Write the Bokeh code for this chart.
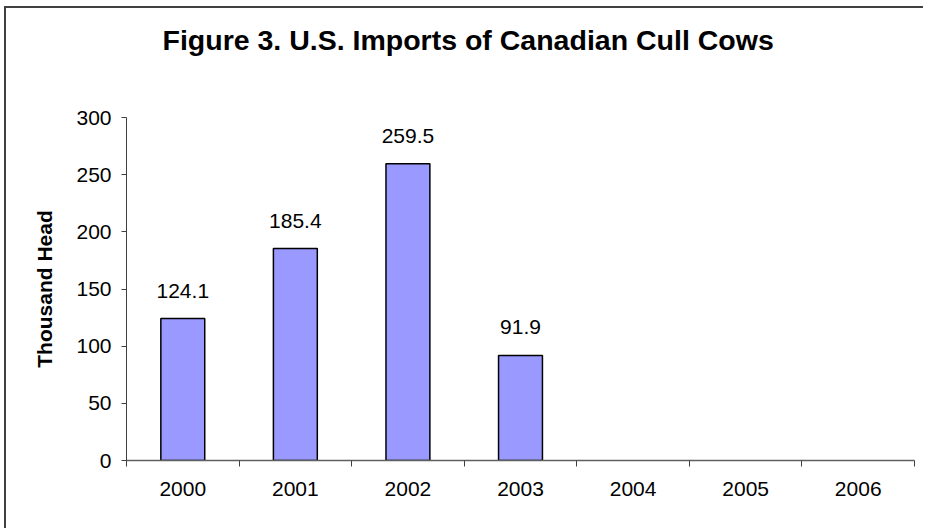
from bokeh.plotting import figure
from bokeh.models import ColumnDataSource, FixedTicker, Range1d, Title
from bokeh.embed import file_html
from bokeh.resources import INLINE
from bokeh.core.properties import value

years = ["2000", "2001", "2002", "2003", "2004", "2005", "2006"]
imports = [124.1, 185.4, 259.5, 91.9, None, None, None]
y_ticks = [0, 50, 100, 150, 200, 250, 300]
title_text = "Figure 3. U.S. Imports of Canadian Cull Cows"

FONT = "Liberation Sans"

xs = [i for i, v in enumerate(imports) if v is not None]
vals = [v for v in imports if v is not None]
src = ColumnDataSource(dict(x=xs, top=vals, label=[f"{v:.1f}" for v in vals]))

p = figure(width=919, height=522, output_backend="svg", toolbar_location=None,
           x_range=Range1d(-0.5, len(years) - 0.5), y_range=Range1d(0, 300),
           min_border_left=120, min_border_right=11, min_border_top=109, min_border_bottom=70)
p.styles = {"border-top": "2px solid #404040", "border-left": "2px solid #404040",
            "margin-top": "6px", "margin-left": "4px"}

# spacer between title and plot frame
spacer = Title(text=" ", text_font_size="1px", standoff=54)
p.add_layout(spacer, "above")
main_title = Title(text=title_text, text_font=FONT, text_font_size="28.5px",
                   text_font_style="bold", text_color="black", align="left",
                   offset=36, standoff=10)
p.add_layout(main_title, "above")

p.vbar(x="x", top="top", width=0.39, bottom=0, source=src,
       fill_color="#9999FF", line_color="black", line_width=1.5)
p.text(x="x", y="top", text="label", source=src, text_align="center",
       text_baseline="alphabetic", y_offset=-28, text_font=value(FONT),
       text_font_size="21px", text_color="black")

p.xgrid.visible = False
p.ygrid.visible = False
p.outline_line_color = None
p.background_fill_color = "white"
p.border_fill_color = "white"

xa = p.xaxis[0]
xa.ticker = FixedTicker(ticks=list(range(len(years))),
                        minor_ticks=[i - 0.5 for i in range(len(years) + 1)])
xa.major_label_overrides = {i: y for i, y in enumerate(years)}
xa.major_tick_out = 0
xa.major_tick_in = 0
xa.minor_tick_out = 6
xa.minor_tick_in = 0
xa.minor_tick_line_color = "#404040"
xa.axis_line_color = "#606060"
xa.axis_line_width = 1.5
xa.major_label_text_font = FONT
xa.major_label_text_font_size = "21px"
xa.major_label_text_color = "black"
xa.major_label_standoff = 15

ya = p.yaxis[0]
ya.ticker = FixedTicker(ticks=y_ticks)
ya.major_tick_out = 5
ya.major_tick_in = 0
ya.minor_tick_line_color = None
ya.axis_line_color = "#404040"
ya.major_tick_line_color = "#404040"
ya.major_label_text_font = FONT
ya.major_label_text_font_size = "21px"
ya.major_label_text_color = "black"
ya.major_label_standoff = 10
ya.axis_label = "Thousand Head"
ya.axis_label_text_font = FONT
ya.axis_label_text_font_size = "21px"
ya.axis_label_text_font_style = "bold"
ya.axis_label_text_color = "black"
ya.axis_label_standoff = 17

open("out.html", "w").write(file_html(p, INLINE))
